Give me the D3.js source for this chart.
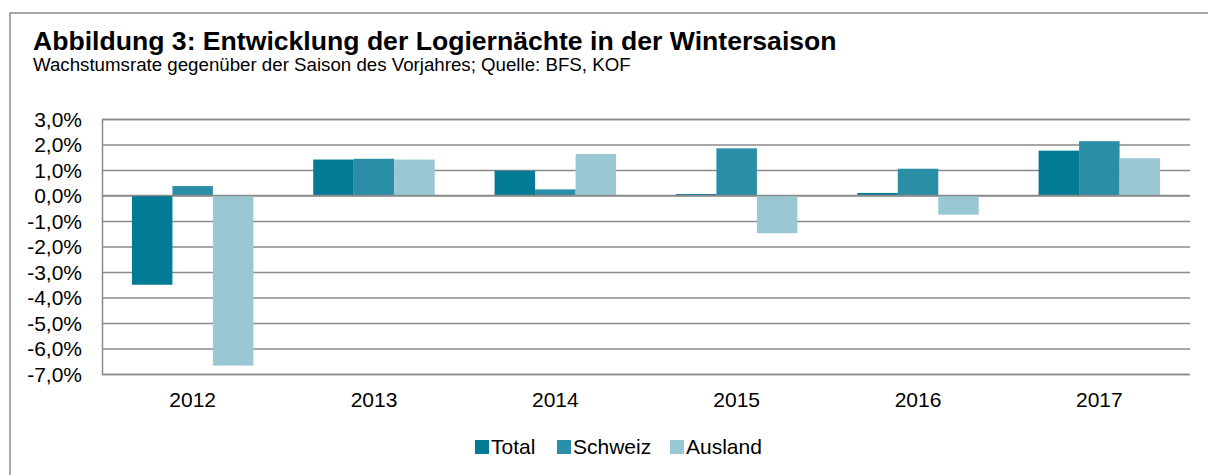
<!DOCTYPE html>
<html><head><meta charset="utf-8">
<script src="https://cdn.jsdelivr.net/npm/d3@7"></script>
<style>
body{margin:0;background:#fff;}
svg{display:block;font-family:"Liberation Sans",Arial,sans-serif;}
</style></head>
<body>
<svg id="chart" width="1208" height="475"></svg>
<script>
const categories = ["2012","2013","2014","2015","2016","2017"];
const seriesNames = ["Total","Schweiz","Ausland"];
const totalValues = [-3.5, 1.41, 0.97, 0.06, 0.1, 1.76];
const schweizValues = [0.37, 1.44, 0.24, 1.85, 1.05, 2.13];
const auslandValues = [-6.67, 1.41, 1.63, -1.48, -0.75, 1.46];
const yTicks = [3,2,1,0,-1,-2,-3,-4,-5,-6,-7];
const colors = ["#037a96","#2a8fa6","#99c8d4"];

const seriesValues = [totalValues, schweizValues, auslandValues];
const svg = d3.select("#chart");
const locale = d3.formatLocale({decimal: ",", thousands: ".", grouping: [3], currency: ["", " CHF"], minus: "-"});
const fmt = locale.format(".1f");

// outer frame
svg.append("rect").attr("x",10).attr("y",13).attr("width",1240).attr("height",500)
  .attr("fill","none").attr("stroke","#8a8a8a").attr("stroke-width",1.5);

svg.append("text").attr("x",33).attr("y",50).attr("font-size",26.6).attr("font-weight","bold")
  .attr("fill","#000").text("Abbildung 3: Entwicklung der Logiernächte in der Wintersaison");
svg.append("text").attr("x",33).attr("y",71).attr("font-size",18.7).attr("fill","#000")
  .text("Wachstumsrate gegenüber der Saison des Vorjahres; Quelle: BFS, KOF");

const pLeft = 102, pRight = 1190, pTop = 119, pBottom = 374;
const y = d3.scaleLinear().domain([-7,3]).range([pBottom, pTop]);
const x0 = d3.scaleBand().domain(categories).range([pLeft,pRight]).paddingInner(0.33).paddingOuter(0.165);
const x1 = d3.scaleBand().domain(seriesNames).range([0, x0.bandwidth()]);
const xc = d3.scaleBand().domain(categories).range([pLeft,pRight]);

// gridlines
const yAxis = d3.axisLeft(y).tickValues(yTicks).tickSize(-(pRight-pLeft)).tickFormat(d => fmt(d)+"%");
const gy = svg.append("g").attr("transform",`translate(${pLeft},0)`).call(yAxis);
gy.select(".domain").attr("stroke","#8a8a8a").attr("stroke-width",1.5);
gy.selectAll(".tick line").attr("stroke","#8a8a8a").attr("stroke-width",1.5);
gy.selectAll(".tick text").attr("x",-20).attr("dy","0.35em").attr("font-size",21).attr("fill","#000");

// bars
const data = [];
categories.forEach((c,i) => seriesNames.forEach((s,j) => data.push({c, s, j, v: seriesValues[j][i]})));
svg.append("g").selectAll("rect").data(data).join("rect")
  .attr("x", d => x0(d.c) + x1(d.s))
  .attr("width", x1.bandwidth())
  .attr("y", d => y(Math.max(0,d.v)))
  .attr("height", d => Math.abs(y(d.v) - y(0)))
  .attr("fill", d => colors[d.j]);

// zero line on top
svg.append("line").attr("x1",pLeft).attr("x2",pRight).attr("y1",y(0)).attr("y2",y(0))
  .attr("stroke","#8a8a8a").attr("stroke-width",1.5);

// x labels
const xAxis = d3.axisBottom(xc).tickSize(0).tickPadding(0);
const gx = svg.append("g").attr("transform",`translate(0,${pBottom})`).call(xAxis);
gx.select(".domain").remove();
gx.selectAll(".tick text").attr("dy",0).attr("y",33).attr("font-size",21).attr("fill","#000");

// legend
const legendX = [475, 557, 670];
const lg = svg.append("g");
seriesNames.forEach((s,j) => {
  lg.append("rect").attr("x",legendX[j]).attr("y",440).attr("width",14).attr("height",14).attr("fill",colors[j]);
  lg.append("text").attr("x",legendX[j]+16).attr("y",454).attr("font-size",21).attr("fill","#000").text(s);
});
</script>
</body></html>
